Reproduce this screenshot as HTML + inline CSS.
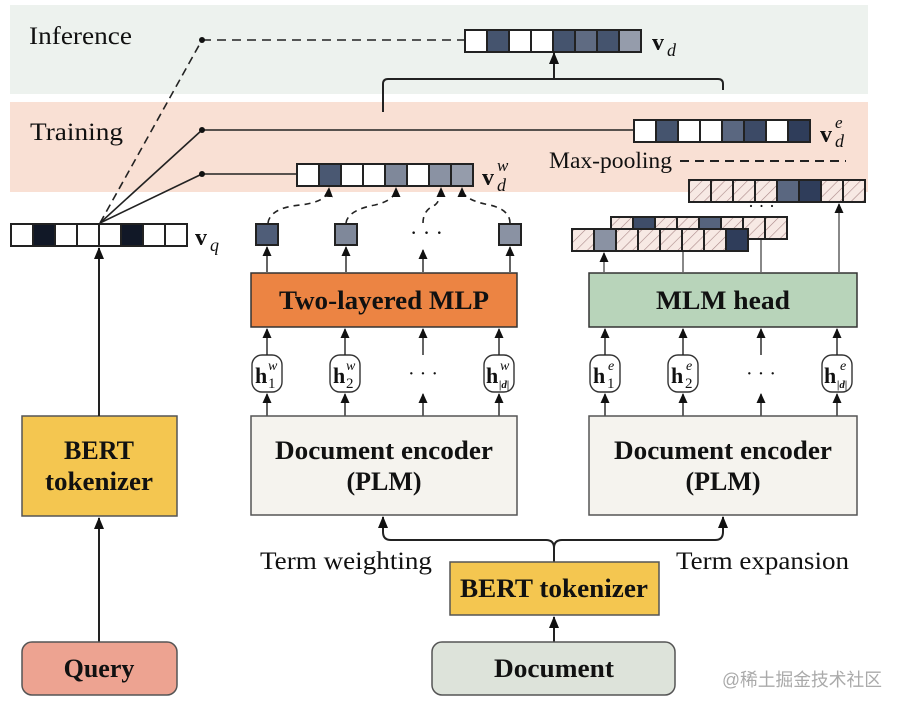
<!DOCTYPE html>
<html><head><meta charset="utf-8"><style>
html,body{margin:0;padding:0;background:#fff;}
svg{display:block;}
text{font-family:"Liberation Serif",serif;fill:#111;}
.b{font-weight:bold;}
</style></head><body>
<svg width="902" height="710" viewBox="0 0 902 710" xmlns="http://www.w3.org/2000/svg">
<defs>
<marker id="ar" markerWidth="12" markerHeight="10" refX="11" refY="5" orient="auto" markerUnits="userSpaceOnUse" viewBox="0 0 12 10"><path d="M0,0 L12,5 L0,10 Z" fill="#111"/></marker>
<marker id="as" markerWidth="10" markerHeight="9" refX="9" refY="4.5" orient="auto" markerUnits="userSpaceOnUse" viewBox="0 0 10 9"><path d="M0,0 L10,4.5 L0,9 Z" fill="#111"/></marker>
<pattern id="h" width="8" height="8" patternUnits="userSpaceOnUse" patternTransform="rotate(45)"><rect width="8" height="8" fill="#f7e9e4"/><line x1="0" y1="0" x2="0" y2="8" stroke="#a88" stroke-width="1.2"/></pattern>
</defs>
<rect x="10" y="5" width="858" height="89" fill="#edf2ee"/>
<rect x="10" y="102" width="858" height="90" fill="#f9e0d4"/>
<text x="29" y="44" font-size="25" textLength="103" lengthAdjust="spacingAndGlyphs">Inference</text>
<text x="30" y="140" font-size="25" textLength="93" lengthAdjust="spacingAndGlyphs">Training</text>

<!-- vd -->
<g stroke="#222" stroke-width="2">
<rect x="465" y="30" width="22" height="22" fill="#fff"/><rect x="487" y="30" width="22" height="22" fill="#45546e"/><rect x="509" y="30" width="22" height="22" fill="#fff"/><rect x="531" y="30" width="22" height="22" fill="#fff"/><rect x="553" y="30" width="22" height="22" fill="#45546e"/><rect x="575" y="30" width="22" height="22" fill="#5f6b82"/><rect x="597" y="30" width="22" height="22" fill="#45546e"/><rect x="619" y="30" width="22" height="22" fill="#959cab"/>
</g>
<text x="652" y="50" font-size="24" class="b">v</text><text x="667" y="56" font-size="18" font-style="italic">d</text>
<path d="M383,112 V84 Q383,79 388,79 H718 Q723,79 723,84 V90" fill="none" stroke="#222" stroke-width="2"/>
<line x1="554" y1="79" x2="554" y2="53" stroke="#222" stroke-width="2" marker-end="url(#ar)"/>

<!-- ve -->
<g stroke="#222" stroke-width="2">
<rect x="634" y="120" width="22" height="22" fill="#fff"/><rect x="656" y="120" width="22" height="22" fill="#45546e"/><rect x="678" y="120" width="22" height="22" fill="#fff"/><rect x="700" y="120" width="22" height="22" fill="#fff"/><rect x="722" y="120" width="22" height="22" fill="#5a6780"/><rect x="744" y="120" width="22" height="22" fill="#3c4a66"/><rect x="766" y="120" width="22" height="22" fill="#fff"/><rect x="788" y="120" width="22" height="22" fill="#2f3d5a"/>
</g>
<text x="820" y="142" font-size="24" class="b">v</text><text x="835" y="128" font-size="17" font-style="italic">e</text><text x="835" y="147" font-size="18" font-style="italic">d</text>
<text x="549" y="168" font-size="23" textLength="123" lengthAdjust="spacingAndGlyphs">Max-pooling</text>
<line x1="680" y1="161" x2="846" y2="161" stroke="#222" stroke-width="2" stroke-dasharray="9,6"/>

<!-- vw -->
<g stroke="#222" stroke-width="2">
<rect x="297" y="164" width="22" height="22" fill="#fff"/><rect x="319" y="164" width="22" height="22" fill="#4a5872"/><rect x="341" y="164" width="22" height="22" fill="#fff"/><rect x="363" y="164" width="22" height="22" fill="#fff"/><rect x="385" y="164" width="22" height="22" fill="#7f889a"/><rect x="407" y="164" width="22" height="22" fill="#fff"/><rect x="429" y="164" width="22" height="22" fill="#8a92a3"/><rect x="451" y="164" width="22" height="22" fill="#959cab"/>
</g>
<text x="482" y="185" font-size="24" class="b">v</text><text x="497" y="171" font-size="17" font-style="italic">w</text><text x="497" y="191" font-size="18" font-style="italic">d</text>

<!-- vq -->
<g stroke="#222" stroke-width="2">
<rect x="11" y="224" width="22" height="22" fill="#fff"/><rect x="33" y="224" width="22" height="22" fill="#111827"/><rect x="55" y="224" width="22" height="22" fill="#fff"/><rect x="77" y="224" width="22" height="22" fill="#fff"/><rect x="99" y="224" width="22" height="22" fill="#fff"/><rect x="121" y="224" width="22" height="22" fill="#111827"/><rect x="143" y="224" width="22" height="22" fill="#fff"/><rect x="165" y="224" width="22" height="22" fill="#fff"/>
</g>
<text x="195" y="245" font-size="24" class="b">v</text><text x="210" y="251" font-size="18" font-style="italic">q</text>

<!-- query lines -->
<g stroke="#222" stroke-width="1.6" fill="none">
<line x1="100" y1="223" x2="202" y2="40" stroke-dasharray="8,5"/>
<line x1="202" y1="40" x2="464" y2="40" stroke-dasharray="9,6"/>
<line x1="100" y1="223" x2="202" y2="130"/>
<line x1="202" y1="130" x2="633" y2="130"/>
<line x1="100" y1="223" x2="202" y2="174"/>
<line x1="202" y1="174" x2="296" y2="174"/>
</g>
<circle cx="202" cy="40" r="3" fill="#111"/><circle cx="202" cy="130" r="3" fill="#111"/><circle cx="202" cy="174" r="3" fill="#111"/>

<!-- small squares -->
<g stroke="#222" stroke-width="2">
<rect x="256" y="224" width="22" height="21" fill="#4f5d78"/>
<rect x="335" y="224" width="22" height="21" fill="#7f889a"/>
<rect x="499" y="224" width="22" height="21" fill="#8a92a3"/>
</g>
<text x="410" y="240" font-size="22">· · ·</text>
<g stroke="#222" stroke-width="1.6" fill="none" stroke-dasharray="6,5">
<path d="M268,223 Q270,208 300,205 Q328,202 329,188" marker-end="url(#as)"/>
<path d="M346,223 Q348,210 375,205 Q396,200 396,188" marker-end="url(#as)"/>
<path d="M423,223 Q423,210 435,205 Q441,200 441,188" marker-end="url(#as)"/>
<path d="M510,223 Q510,210 490,205 Q462,200 462,188" marker-end="url(#as)"/>
</g>
<g stroke="#222" stroke-width="1.4" marker-end="url(#as)">
<line x1="267" y1="272" x2="267" y2="247"/><line x1="346" y1="272" x2="346" y2="247"/><line x1="423" y1="272" x2="423" y2="250"/><line x1="510" y1="272" x2="510" y2="247"/>
</g>

<!-- hatched stack -->
<g stroke="#222" stroke-width="2">
<rect x="611" y="217" width="22" height="22" fill="url(#h)"/><rect x="633" y="217" width="22" height="22" fill="#3f4d69"/><rect x="655" y="217" width="22" height="22" fill="url(#h)"/><rect x="677" y="217" width="22" height="22" fill="url(#h)"/><rect x="699" y="217" width="22" height="22" fill="#56647e"/><rect x="721" y="217" width="22" height="22" fill="url(#h)"/><rect x="743" y="217" width="22" height="22" fill="url(#h)"/><rect x="765" y="217" width="22" height="22" fill="url(#h)"/>
<rect x="572" y="229" width="22" height="22" fill="url(#h)"/><rect x="594" y="229" width="22" height="22" fill="#8a92a3"/><rect x="616" y="229" width="22" height="22" fill="url(#h)"/><rect x="638" y="229" width="22" height="22" fill="url(#h)"/><rect x="660" y="229" width="22" height="22" fill="url(#h)"/><rect x="682" y="229" width="22" height="22" fill="url(#h)"/><rect x="704" y="229" width="22" height="22" fill="url(#h)"/><rect x="726" y="229" width="22" height="22" fill="#2f3d5a"/>
<rect x="689" y="180" width="22" height="22" fill="url(#h)"/><rect x="711" y="180" width="22" height="22" fill="url(#h)"/><rect x="733" y="180" width="22" height="22" fill="url(#h)"/><rect x="755" y="180" width="22" height="22" fill="url(#h)"/><rect x="777" y="180" width="22" height="22" fill="#5a6780"/><rect x="799" y="180" width="22" height="22" fill="#2f3d5a"/><rect x="821" y="180" width="22" height="22" fill="url(#h)"/><rect x="843" y="180" width="22" height="22" fill="url(#h)"/>
</g>
<text x="748" y="212" font-size="18">· · ·</text>
<g stroke="#555" stroke-width="1.4">
<line x1="604" y1="272" x2="604" y2="253" marker-end="url(#as)"/>
<line x1="683" y1="272" x2="683" y2="252"/>
<line x1="761" y1="272" x2="761" y2="240"/>
<line x1="839" y1="272" x2="839" y2="204" marker-end="url(#as)"/>
</g>

<!-- MLP / MLM -->
<rect x="251" y="273" width="266" height="54" fill="#ec8443" stroke="#333" stroke-width="1.5"/>
<text x="384" y="309" font-size="26" class="b" text-anchor="middle" textLength="210" lengthAdjust="spacingAndGlyphs">Two-layered MLP</text>
<rect x="589" y="273" width="268" height="54" fill="#b8d4ba" stroke="#333" stroke-width="1.5"/>
<text x="723" y="309" font-size="26" class="b" text-anchor="middle" textLength="134" lengthAdjust="spacingAndGlyphs">MLM head</text>

<!-- h nodes -->
<g stroke="#333" stroke-width="1.4" fill="#fff">
<rect x="252" y="355" width="30" height="37" rx="10"/><rect x="330" y="355" width="30" height="37" rx="10"/><rect x="484" y="355" width="30" height="37" rx="10"/>
<rect x="590" y="355" width="30" height="37" rx="10"/><rect x="668" y="355" width="30" height="37" rx="10"/><rect x="822" y="355" width="30" height="37" rx="10"/>
</g>
<g font-size="22" class="b">
<text x="255" y="383">h</text><text x="333" y="383">h</text><text x="486" y="383">h</text>
<text x="593" y="383">h</text><text x="671" y="383">h</text><text x="824" y="383">h</text>
</g>
<g font-size="14" font-style="italic">
<text x="268" y="370">w</text><text x="346" y="370">w</text><text x="500" y="370">w</text>
<text x="608" y="370">e</text><text x="686" y="370">e</text><text x="840" y="370">e</text>
</g>
<g font-size="15">
<text x="268" y="388">1</text><text x="346" y="388">2</text><text x="499" y="388" font-size="11" font-style="italic" class="b">|d|</text>
<text x="607" y="388">1</text><text x="685" y="388">2</text><text x="837" y="388" font-size="11" font-style="italic" class="b">|d|</text>
</g>
<text x="408" y="380" font-size="20">· · ·</text>
<text x="746" y="380" font-size="20">· · ·</text>
<g stroke="#222" stroke-width="1.4" marker-end="url(#as)">
<line x1="267" y1="355" x2="267" y2="329"/><line x1="345" y1="355" x2="345" y2="329"/><line x1="423" y1="355" x2="423" y2="329"/><line x1="499" y1="355" x2="499" y2="329"/>
<line x1="605" y1="355" x2="605" y2="329"/><line x1="683" y1="355" x2="683" y2="329"/><line x1="761" y1="355" x2="761" y2="329"/><line x1="837" y1="355" x2="837" y2="329"/>
<line x1="267" y1="416" x2="267" y2="394"/><line x1="345" y1="416" x2="345" y2="394"/><line x1="423" y1="416" x2="423" y2="394"/><line x1="499" y1="416" x2="499" y2="394"/>
<line x1="605" y1="416" x2="605" y2="394"/><line x1="683" y1="416" x2="683" y2="394"/><line x1="761" y1="416" x2="761" y2="394"/><line x1="837" y1="416" x2="837" y2="394"/>
</g>

<!-- encoders -->
<rect x="251" y="416" width="266" height="99" fill="#f5f3ee" stroke="#555" stroke-width="1.5"/>
<text x="384" y="459" font-size="26" class="b" text-anchor="middle" textLength="218" lengthAdjust="spacingAndGlyphs">Document encoder</text>
<text x="384" y="490" font-size="26" class="b" text-anchor="middle">(PLM)</text>
<rect x="589" y="416" width="268" height="99" fill="#f5f3ee" stroke="#555" stroke-width="1.5"/>
<text x="723" y="459" font-size="26" class="b" text-anchor="middle" textLength="218" lengthAdjust="spacingAndGlyphs">Document encoder</text>
<text x="723" y="490" font-size="26" class="b" text-anchor="middle">(PLM)</text>

<!-- left column -->
<rect x="22" y="416" width="155" height="100" fill="#f4c650" stroke="#555" stroke-width="1.5"/>
<text x="99" y="459" font-size="26" class="b" text-anchor="middle">BERT</text>
<text x="99" y="490" font-size="26" class="b" text-anchor="middle" textLength="108" lengthAdjust="spacingAndGlyphs">tokenizer</text>
<line x1="99" y1="416" x2="99" y2="248" stroke="#222" stroke-width="2" marker-end="url(#ar)"/>
<line x1="99" y1="642" x2="99" y2="518" stroke="#222" stroke-width="2" marker-end="url(#ar)"/>
<rect x="22" y="642" width="155" height="53" rx="10" fill="#eda391" stroke="#555" stroke-width="1.5"/>
<text x="99" y="677" font-size="26" class="b" text-anchor="middle">Query</text>

<!-- bottom -->
<path d="M554,562 V548 Q554,540 546,540 H391 Q383,540 383,532 V517" fill="none" stroke="#222" stroke-width="2" marker-end="url(#ar)"/>
<path d="M554,548 Q554,540 562,540 H715 Q723,540 723,532 V517" fill="none" stroke="#222" stroke-width="2" marker-end="url(#ar)"/>
<text x="260" y="569" font-size="25" textLength="172" lengthAdjust="spacingAndGlyphs">Term weighting</text>
<text x="676" y="569" font-size="25" textLength="173" lengthAdjust="spacingAndGlyphs">Term expansion</text>
<rect x="450" y="562" width="209" height="53" fill="#f4c650" stroke="#555" stroke-width="1.5"/>
<text x="554" y="597" font-size="26" class="b" text-anchor="middle" textLength="188" lengthAdjust="spacingAndGlyphs">BERT tokenizer</text>
<line x1="554" y1="642" x2="554" y2="617" stroke="#222" stroke-width="2" marker-end="url(#ar)"/>
<rect x="432" y="642" width="243" height="53" rx="10" fill="#dde3da" stroke="#555" stroke-width="1.5"/>
<text x="554" y="677" font-size="26" class="b" text-anchor="middle" textLength="120" lengthAdjust="spacingAndGlyphs">Document</text>
<text x="722" y="686" font-size="18" textLength="160" lengthAdjust="spacingAndGlyphs" style="fill:#aaa;font-family:'Liberation Sans','Noto Sans CJK SC',sans-serif">@稀土掘金技术社区</text>
</svg>
</body></html>
